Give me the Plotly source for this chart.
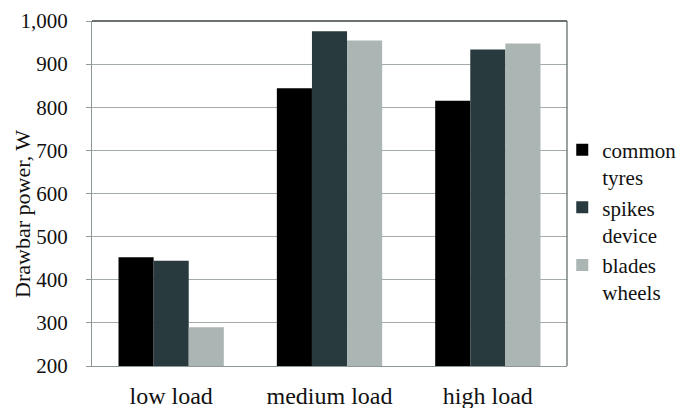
import plotly.graph_objects as go

categories = ["low load", "medium load", "high load"]
series_names = ["common<br>tyres", "spikes<br>device", "blades<br>wheels"]
common_tyres = [452, 844, 815]
spikes_device = [444, 976, 934]
blades_wheels = [290, 955, 948]
colors = ["#000000", "#283a3d", "#abb5b3"]
y_ticks = [200, 300, 400, 500, 600, 700, 800, 900, 1000]
y_tick_labels = ["200", "300", "400", "500", "600", "700", "800", "900", "1,000"]
y_title = "Drawbar power, W"

fig = go.Figure()
for name, vals, col in zip(series_names, [common_tyres, spikes_device, blades_wheels], colors):
    fig.add_trace(go.Bar(x=categories, y=vals, name=name, marker=dict(color=col, line=dict(width=0))))

fam = "Liberation Serif"
font = dict(family=fam, size=22, color="#111111")
ytick_font = dict(family=fam, size=21, color="#111111")
xtick_font = dict(family=fam, size=24, color="#111111")
legend_font = dict(family=fam, size=21, color="#111111")
# The page body has an 8px default margin, so the figure is sized 8px smaller.
fig.update_layout(
    width=676, height=400,
    margin=dict(l=84, r=117, t=13, b=42, autoexpand=False),
    paper_bgcolor="white", plot_bgcolor="white",
    barmode="group", bargap=0.335, bargroupgap=0,
    font=font,
    showlegend=True,
    legend=dict(x=0.99, xanchor="left", y=0.42, yanchor="middle", valign="top",
                font=legend_font, bgcolor="rgba(0,0,0,0)", itemwidth=30, tracegroupgap=0),
    xaxis=dict(showline=True, linecolor="#8e9897", linewidth=1, ticks="", showgrid=False,
               ticklabelstandoff=8, tickfont=xtick_font),
    yaxis=dict(range=[200, 1000], tickvals=y_ticks, ticktext=y_tick_labels,
               showgrid=True, gridcolor="#a3acab", gridwidth=1,
               showline=True, linecolor="#8e9897", linewidth=1,
               ticks="outside", ticklen=5, tickcolor="#8e9897",
               ticklabelstandoff=14,
               tickfont=ytick_font),
)
fig.add_annotation(text=y_title, xref="paper", yref="paper", x=-0.148, y=0.44,
                   xanchor="center", yanchor="middle", textangle=-90, showarrow=False,
                   font=font)
fig.add_shape(type="line", xref="x domain", yref="y domain", x0=0, x1=1, y0=1, y1=1,
              line=dict(color="#3a4040", width=1.5))
fig.add_shape(type="line", xref="x domain", yref="y domain", x0=1, x1=1, y0=0, y1=1,
              line=dict(color="#5a6262", width=1.2))
fig.write_html("out.html")
